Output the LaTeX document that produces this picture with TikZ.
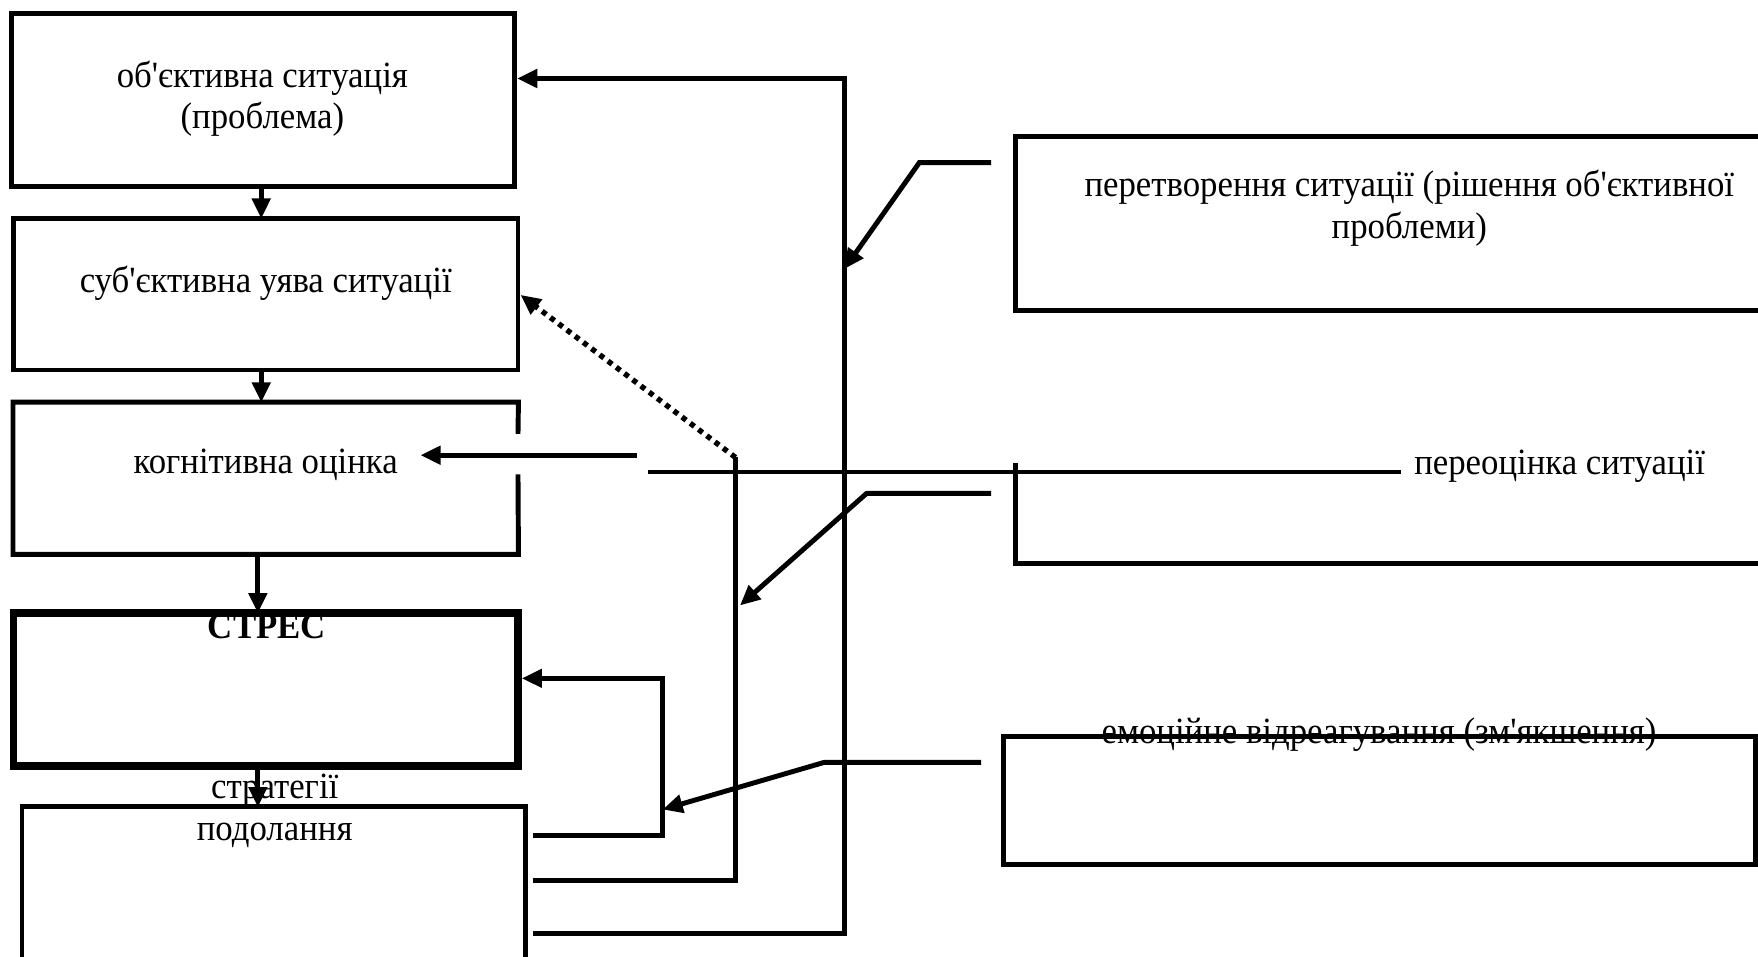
\documentclass[tikz,border=0pt]{standalone}
\usepackage{fontspec}
\setmainfont{Liberation Serif}[Ligatures=TeXOff, FakeStretch=0.94]
\usetikzlibrary{arrows.meta,fit}
\begin{document}
\begin{tikzpicture}[x=0.5pt,y=-0.5pt,
  frame/.style={draw, line width=2.2pt, inner sep=0pt},
  thickframe/.style={draw, line width=3.4pt, inner sep=0pt},
  blank/.style={inner sep=0pt},
  conn/.style={line width=2.2pt},
  arr/.style={conn, -{Triangle[length=9pt,width=8pt]}},
  dotarr/.style={line width=2.4pt, dash pattern=on 2.3pt off 2.3pt, -{Triangle[length=9pt,width=8pt]}},
  lbl/.style={font=\fontsize{16.5}{18.7}\selectfont, align=center, inner sep=0pt}]
\useasboundingbox (0,0) rectangle (1568,853);
% left column boxes
\node[frame, fit={(10,12) (459,166)}] (b1) {};
\node[frame, fit={(12,195) (462,330)}] (b2) {};
\node[blank, fit={(12,359) (462,494)}] (b3) {};
\node[thickframe, fit={(12,547) (462,683)}] (b4) {};
\node[blank, fit={(20,720) (468,880)}] (b5) {};
% box 3 with gap in right edge
\coordinate (g1) at (462,387);
\coordinate (g2) at (462,423);
\draw[conn] (g1) -- (b3.north east) -- (b3.north west) -- (b3.south west) -- (b3.south east) -- (g2);
% box 5 open at bottom
\draw[conn] (b5.south west) -- (b5.north west) -- (b5.north east) -- (b5.south east);
% right boxes
\node[frame, fit={(906,122) (1580,277)}] (b6) {};
\node[frame, fit={(895,657) (1566,771)}] (b8) {};
\coordinate (b7tl) at (906,413);
\coordinate (b7bl) at (906,503);
\coordinate (b7br) at (1580,503);
\draw[conn] (b7tl) -- (b7bl) -- (b7br);
% texts
\node[lbl] (t1) at (234,88) {об'єктивна ситуація\\(проблема)};
\node[lbl] (t2) at (237,253) {суб'єктивна уява ситуації};
\node[lbl] (t3) at (237,415) {когнітивна оцінка};
\node[lbl, font=\fontsize{16.5}{18.7}\selectfont\bfseries] (t4) at (238,559) {СТРЕС};
\node[lbl] (t5) at (245,723) {стратегії\\подолання};
\node[lbl] (t6) at (1257,186) {перетворення ситуації (рішення об'єктивної\\проблеми)};
\node[lbl, anchor=west] (t7) at (1261,416) {переоцінка ситуації};
\node[lbl] (t8) at (1230,655) {емоційне відреагування (зм'якшення)};
% vertical flow
\draw[arr] (233,166) -- (233,195);
\draw[arr] (233,330) -- (233,359);
\draw[arr] (230,494) -- (230,547);
\draw[arr] (230,683) -- (230,720);
% feedback loops
\coordinate (s1) at (475,745);
\coordinate (s2) at (475,785);
\coordinate (s3) at (475,833);
\coordinate (k1) at (591,745);
\coordinate (k2) at (656,785);
\coordinate (k3) at (753,833);
\coordinate (m2) at (656,408);
\coordinate (m3) at (753,70);
\draw[arr] (s1) -- (k1) -- (k1 |- 0,605) -- (b4.east |- 0,605);
\draw[conn] (s2) -- (k2) -- (m2);
\draw[dotarr] (m2) -- (b2.east |- 0,263);
\draw[arr] (s3) -- (k3) -- (m3) -- (b1.east |- m3);
% reappraisal
\coordinate (r1) at (568,406);
\coordinate (r2) at (375,406);
\draw[arr] (r1) -- (r2);
\coordinate (l1) at (578,421);
\coordinate (l2) at (1250,421);
\draw[conn] (l1) -- (l2);
% coping connectors
\coordinate (p1) at (884,145);
\coordinate (p2) at (820,145);
\draw[arr] (p1) -- (p2) -- (753,240);
\coordinate (q1) at (884,440);
\coordinate (q2) at (773,440);
\draw[arr] (q1) -- (q2) -- (660,540);
\coordinate (e1) at (875,680);
\coordinate (e2) at (735,680);
\draw[arr] (e1) -- (e2) -- (591,722);
\end{tikzpicture}
\end{document}
